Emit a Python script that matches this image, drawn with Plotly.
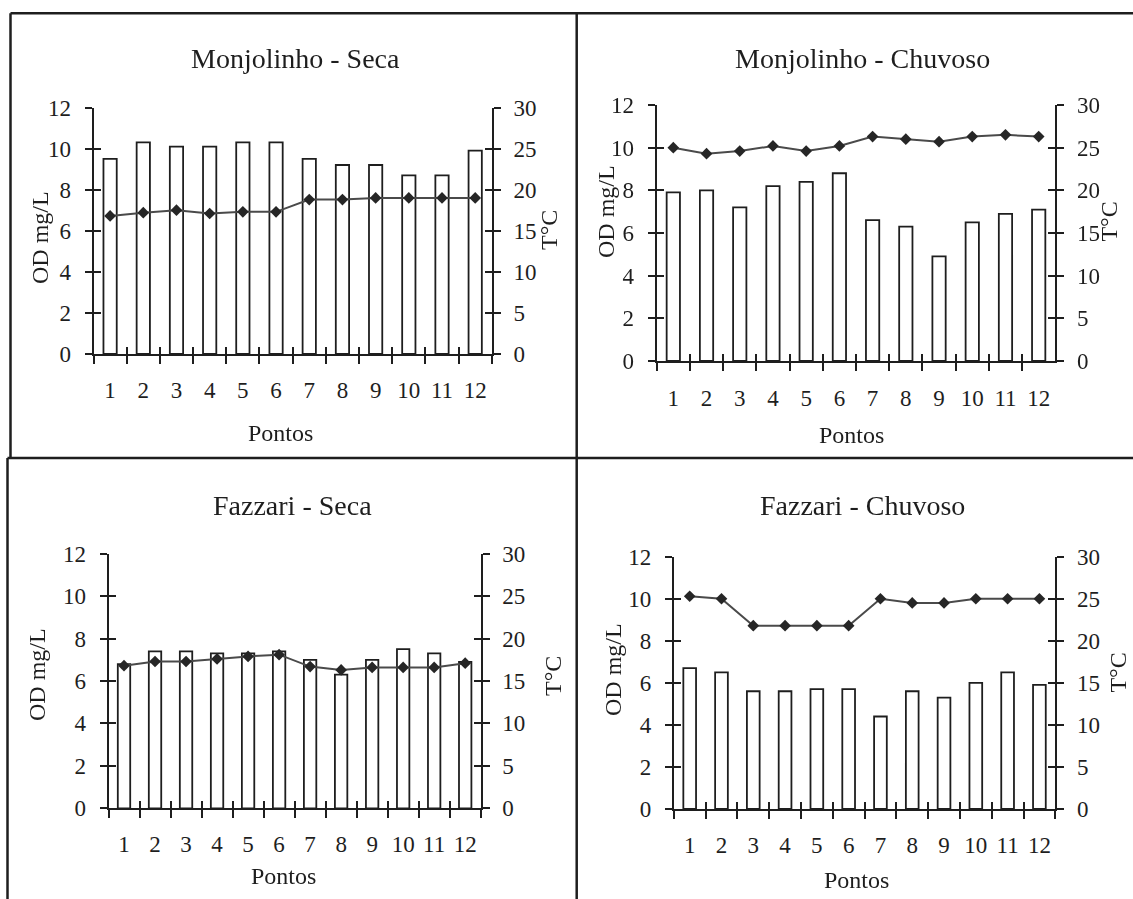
import plotly.graph_objects as go

# ---------------- data ----------------
pontos = ["1", "2", "3", "4", "5", "6", "7", "8", "9", "10", "11", "12"]

od_monj_seca = [9.5, 10.3, 10.1, 10.1, 10.3, 10.3, 9.5, 9.2, 9.2, 8.7, 8.7, 9.9]
temp_monj_seca = [16.8, 17.2, 17.5, 17.1, 17.3, 17.3, 18.8, 18.8, 19.0, 19.0, 19.0, 19.0]

od_monj_chuv = [7.9, 8.0, 7.2, 8.2, 8.4, 8.8, 6.6, 6.3, 4.9, 6.5, 6.9, 7.1]
temp_monj_chuv = [25.0, 24.3, 24.6, 25.2, 24.6, 25.2, 26.3, 26.0, 25.7, 26.3, 26.5, 26.3]

od_fazz_seca = [6.8, 7.4, 7.4, 7.3, 7.3, 7.4, 7.0, 6.3, 7.0, 7.5, 7.3, 6.9]
temp_fazz_seca = [16.8, 17.3, 17.3, 17.6, 17.9, 18.1, 16.7, 16.3, 16.6, 16.6, 16.6, 17.1]

od_fazz_chuv = [6.7, 6.5, 5.6, 5.6, 5.7, 5.7, 4.4, 5.6, 5.3, 6.0, 6.5, 5.9]
temp_fazz_chuv = [25.3, 25.0, 21.8, 21.8, 21.8, 21.8, 25.0, 24.5, 24.5, 25.0, 25.0, 25.0]

titles = ["Monjolinho - Seca", "Monjolinho - Chuvoso", "Fazzari - Seca", "Fazzari - Chuvoso"]
od_series = [od_monj_seca, od_monj_chuv, od_fazz_seca, od_fazz_chuv]
temp_series = [temp_monj_seca, temp_monj_chuv, temp_fazz_seca, temp_fazz_chuv]
od_label = "OD mg/L"
temp_label = "T°C"
x_label = "Pontos"
od_range = [0, 12]
temp_range = [0, 30]

# ---------------- layout geometry (pixels) ----------------
W, H = 1133, 899
FONT = "Liberation Serif, Times New Roman, Tinos, DejaVu Serif, serif"
INK = "#1e1e1e"

panels = [
    dict(x0=93.5, x1=491.8, yt=107.5, yb=354.0, tx=295, ty=58.3, ox=40, oy=238,
         rx=549, ry=230, px=280, py=433, xstand=14),
    dict(x0=656.7, x1=1055.3, yt=105.0, yb=361.0, tx=862, ty=58.3, ox=606, oy=212,
         rx=1108.6, ry=222, px=851, py=435, xstand=15),
    dict(x0=108.5, x1=480.7, yt=553.7, yb=808.3, tx=292, ty=505, ox=37, oy=675,
         rx=553, ry=676, px=283.5, py=875.5, xstand=14),
    dict(x0=673.8, x1=1055.3, yt=556.7, yb=809.0, tx=862, ty=505.7, ox=613, oy=670,
         rx=1117.6, ry=673, px=856, py=880, xstand=14),
]


def fx(px):
    return px / W


def fy(py):
    return 1 - py / H


def name(kind, n):
    return kind + "axis" + ("" if n == 1 else str(n))


def ref(kind, n):
    return kind + ("" if n == 1 else str(n))


fig = go.Figure()
layout = {}
annotations = []
tickfont = dict(family=FONT, size=23, color=INK)
boundaries = [i - 0.5 for i in range(len(pontos) + 1)]

for k, p in enumerate(panels):
    xm, xo = 2 * k + 1, 2 * k + 2
    yl, yr, yli, yri = 4 * k + 1, 4 * k + 2, 4 * k + 3, 4 * k + 4
    xdom = [fx(p["x0"]), fx(p["x1"])]
    ydom = [fy(p["yb"]), fy(p["yt"])]

    layout[name("x", xm)] = dict(
        domain=xdom, anchor=ref("y", yl), type="category",
        range=[-0.5, len(pontos) - 0.5], tickson="boundaries",
        ticks="outside", ticklen=8, tickwidth=2, tickcolor=INK,
        showline=True, linewidth=2, linecolor=INK, showgrid=False,
        zeroline=False, tickfont=tickfont, ticklabelstandoff=p["xstand"],
        tickangle=0, fixedrange=True, automargin=False,
    )
    layout[name("x", xo)] = dict(
        domain=xdom, anchor=ref("y", yl), overlaying=ref("x", xm), type="linear",
        range=[-0.5, len(pontos) - 0.5], tickmode="array", tickvals=boundaries,
        ticks="inside", ticklen=7, tickwidth=2, tickcolor=INK,
        showticklabels=False, showline=False, showgrid=False, zeroline=False,
        fixedrange=True,
    )
    common_y = dict(tickwidth=2, tickcolor=INK, showgrid=False, zeroline=False,
                    fixedrange=True, anchor=ref("x", xm), automargin=False)
    layout[name("y", yl)] = dict(
        domain=ydom, range=od_range, dtick=2, tick0=0, ticks="outside", ticklen=7,
        showline=True, linewidth=2, linecolor=INK, tickfont=tickfont,
        ticklabelstandoff=9, **common_y,
    )
    layout[name("y", yr)] = dict(
        domain=ydom, overlaying=ref("y", yl), side="right", range=temp_range,
        dtick=5, tick0=0, ticks="outside", ticklen=7, showline=True, linewidth=2,
        linecolor=INK, tickfont=tickfont, ticklabelstandoff=8, **common_y,
    )
    layout[name("y", yli)] = dict(
        domain=ydom, overlaying=ref("y", yl), side="left", range=od_range,
        dtick=2, tick0=0, ticks="inside", ticklen=7, showticklabels=False,
        showline=False, **common_y,
    )
    layout[name("y", yri)] = dict(
        domain=ydom, overlaying=ref("y", yl), side="right", range=temp_range,
        dtick=5, tick0=0, ticks="inside", ticklen=7, showticklabels=False,
        showline=False, **common_y,
    )

    od = od_series[k]
    temp = temp_series[k]

    fig.add_trace(go.Bar(
        x=pontos, y=od, xaxis=ref("x", xm), yaxis=ref("y", yl),
        marker=dict(color="white", line=dict(color=INK, width=1.8)),
        showlegend=False, hoverinfo="skip",
    ))
    # invisible helpers so the tick-overlay axes are drawn
    fig.add_trace(go.Scatter(x=pontos, y=od, xaxis=ref("x", xo), yaxis=ref("y", yl),
                             mode="markers", opacity=0, showlegend=False, hoverinfo="skip"))
    fig.add_trace(go.Scatter(x=pontos, y=od, xaxis=ref("x", xm), yaxis=ref("y", yli),
                             mode="markers", opacity=0, showlegend=False, hoverinfo="skip"))
    fig.add_trace(go.Scatter(x=pontos, y=temp, xaxis=ref("x", xm), yaxis=ref("y", yri),
                             mode="markers", opacity=0, showlegend=False, hoverinfo="skip"))
    fig.add_trace(go.Scatter(
        x=pontos, y=temp, xaxis=ref("x", xm), yaxis=ref("y", yr),
        mode="lines+markers", line=dict(color="#4a4a4a", width=2),
        marker=dict(symbol="diamond", size=9, color="#262626"),
        showlegend=False, hoverinfo="skip",
    ))

    annotations.append(dict(text=titles[k], x=fx(p["tx"]), y=fy(p["ty"]), xref="paper", yref="paper",
                            showarrow=False, xanchor="center", yanchor="middle",
                            font=dict(family=FONT, size=28, color=INK)))
    annotations.append(dict(text=od_label, x=fx(p["ox"]), y=fy(p["oy"]), xref="paper", yref="paper",
                            showarrow=False, xanchor="center", yanchor="middle", textangle=-90,
                            font=dict(family=FONT, size=24, color=INK)))
    annotations.append(dict(text=temp_label, x=fx(p["rx"]), y=fy(p["ry"]), xref="paper", yref="paper",
                            showarrow=False, xanchor="center", yanchor="middle", textangle=-90,
                            font=dict(family=FONT, size=24, color=INK)))
    annotations.append(dict(text=x_label, x=fx(p["px"]), y=fy(p["py"]), xref="paper", yref="paper",
                            showarrow=False, xanchor="center", yanchor="middle",
                            font=dict(family=FONT, size=24, color=INK)))

# frame lines around the four panels
frame = dict(type="line", xref="paper", yref="paper", line=dict(color=INK, width=2.5), layer="above")
shapes = [
    dict(frame, x0=fx(10.5), x1=1, y0=fy(13.3), y1=fy(13.3)),          # top
    dict(frame, x0=fx(10.5), x1=fx(10.5), y0=fy(13.3), y1=fy(458)),    # left (top row)
    dict(frame, x0=fx(7.5), x1=fx(7.5), y0=fy(458), y1=0),             # left (bottom row)
    dict(frame, x0=fx(576.7), x1=fx(576.7), y0=fy(13.3), y1=0),        # middle vertical
    dict(frame, x0=fx(7.5), x1=1, y0=fy(458), y1=fy(458)),             # middle horizontal
]

fig.update_layout(
    width=W, height=H, margin=dict(l=0, r=0, t=0, b=0, pad=0),
    paper_bgcolor="white", plot_bgcolor="white",
    bargap=0.6, showlegend=False,
    annotations=annotations, shapes=shapes,
    font=dict(family=FONT, color=INK),
    **layout,
)

fig.write_html("out.html", config={"displayModeBar": False, "staticPlot": True},
               post_script="document.body.style.margin='0';document.body.style.overflow='hidden';")
